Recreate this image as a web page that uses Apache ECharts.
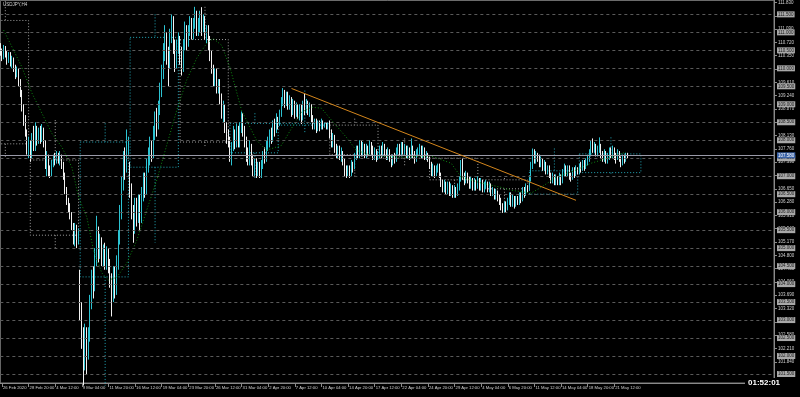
<!DOCTYPE html>
<html><head><meta charset="utf-8">
<script src="https://cdn.jsdelivr.net/npm/echarts@6/dist/echarts.min.js"></script>
<style>html,body{margin:0;padding:0;background:#000;}#c{width:800px;height:397px;}</style>
</head><body><div id="c"></div>
<script>
const symbolTitle = 'USDJPY,H4';
const timeLeft = '01:52:01';
const tradingDays = ['26 Feb','27 Feb','28 Feb','2 Mar','3 Mar','4 Mar','5 Mar','6 Mar','9 Mar','10 Mar','11 Mar','12 Mar','13 Mar','16 Mar','17 Mar','18 Mar','19 Mar','20 Mar','23 Mar','24 Mar','25 Mar','26 Mar','27 Mar','30 Mar','31 Mar','1 Apr','2 Apr','3 Apr','6 Apr','7 Apr','8 Apr','9 Apr','10 Apr','13 Apr','14 Apr','15 Apr','16 Apr','17 Apr','20 Apr','21 Apr','22 Apr','23 Apr','24 Apr','27 Apr','28 Apr','29 Apr','30 Apr','1 May','4 May','5 May','6 May','7 May','8 May','11 May','12 May','13 May','14 May','15 May','18 May','19 May','20 May','21 May','22 May'];
const barHours = ['00:00','04:00','08:00','12:00','16:00','20:00'];
const emptySlots = 88;
const tickBars = [1,17,33,49,65,81,97,113,129,145,161,177,193,209,225,241,257,273,289,305,321,337,353,369];
const tickLabels = ['26 Feb 2020','28 Feb 20:00','4 Mar 12:00','9 Mar 04:00','11 Mar 20:00','16 Mar 12:00','19 Mar 04:00','23 Mar 20:00','26 Mar 12:00','31 Mar 04:00','2 Apr 20:00','7 Apr 12:00','10 Apr 04:00','14 Apr 20:00','17 Apr 12:00','22 Apr 04:00','24 Apr 20:00','29 Apr 12:00','4 May 04:00','6 May 20:00','11 May 12:00','14 May 04:00','18 May 20:00','21 May 12:00'];
// [open, close, low, high]
const candles = [
[110.55,110.45,110.35,110.70],[110.45,110.30,110.20,110.55],[110.30,110.55,110.25,110.65],[110.55,110.40,110.30,110.62],[110.40,110.20,110.10,110.48],[110.20,110.35,110.15,110.45],
[110.35,110.15,110.05,110.45],[110.15,110.25,110.00,110.35],[110.25,110.00,109.90,110.30],[110.00,109.85,109.70,110.10],[109.85,109.95,109.75,110.05],[109.95,109.60,109.50,110.00],
[109.6,109.3,109.2,109.7],[109.3,108.9,108.8,109.4],[108.9,108.6,108.4,109.0],[108.6,108.2,108.1,108.7],[108.2,107.75,107.6,108.3],[107.75,107.9,107.5,108.1],
[107.9,107.6,107.4,108.0],[107.6,108.1,107.5,108.2],[108.1,107.8,107.7,108.4],[107.8,108.3,107.7,108.5],[108.3,107.95,107.85,108.4],[107.95,108.25,107.9,108.35],
[108.25,108.0,107.9,108.4],[108.0,108.3,107.95,108.45],[108.3,107.9,107.8,108.35],[107.9,107.3,107.2,108.0],[107.3,107.5,107.0,107.7],[107.5,107.2,107.0,107.6],
[107.2,107.05,106.95,107.3],[107.05,107.35,107.0,107.45],[107.35,107.5,107.25,107.6],[107.5,107.4,107.3,107.65],[107.4,107.6,107.35,107.7],[107.6,107.45,107.35,107.65],
[107.45,107.55,107.3,107.7],[107.55,107.35,107.2,107.6],[107.35,107.0,106.9,107.4],[107.0,106.6,106.5,107.1],[106.6,106.3,106.2,106.7],[106.3,106.15,106.0,106.4],
[106.15,105.9,105.8,106.25],[105.9,105.6,105.5,106.0],[105.6,105.3,105.1,105.7],[105.3,105.55,105.05,105.7],[105.55,105.2,105.0,105.65],[105.2,105.4,105.1,105.55],
[104.2,103.3,103.0,104.4],[103.3,102.5,102.2,103.5],[102.5,101.9,101.18,102.8],[101.9,102.6,101.6,102.9],[102.6,102.1,101.5,102.8],[102.1,102.6,101.9,102.8],
[102.6,103.5,102.4,103.7],[103.5,104.2,103.3,104.4],[104.2,103.9,103.6,104.5],[103.9,104.8,103.8,105.0],[104.8,105.4,104.5,105.9],[105.4,104.9,104.6,105.6],
[104.9,105.2,104.7,105.4],[105.2,104.7,104.5,105.3],[104.7,105.0,104.5,105.1],[105.0,104.6,104.4,105.15],[104.6,104.9,104.4,105.05],[104.9,104.5,104.3,105.0],
[104.5,104.1,103.9,104.7],[104.1,103.7,103.1,104.3],[103.7,104.3,103.5,104.5],[104.3,103.9,103.6,104.5],[103.9,104.6,103.7,104.8],[104.6,105.3,104.4,105.5],
[105.3,106.0,105.1,106.2],[106.0,106.8,105.8,107.0],[106.8,107.5,106.6,107.7],[107.5,107.2,106.9,107.8],[107.2,107.9,107.1,108.3],[107.9,107.95,107.6,108.1],
[107.25,106.6,106.4,107.4],[106.6,106.0,105.8,106.8],[106.0,105.6,105.15,106.2],[105.6,106.2,105.4,106.4],[106.2,105.8,105.6,106.4],[105.8,106.3,105.7,106.5],
[106.3,105.8,105.5,106.5],[105.8,106.5,105.7,106.7],[106.5,106.9,106.3,107.1],[106.9,106.6,106.4,107.1],[106.6,107.3,106.5,107.5],[107.3,107.6,107.1,107.8],
[107.6,107.9,107.3,108.1],[107.9,107.6,107.4,108.0],[107.6,108.2,107.5,108.4],[108.2,108.6,108.0,108.8],[108.6,108.4,108.1,108.9],[108.4,108.9,108.3,109.1],
[108.9,109.4,108.7,109.6],[109.4,109.9,109.2,110.1],[109.9,110.5,109.7,110.7],[110.5,110.9,110.2,111.2],[110.9,110.4,110.1,111.0],[110.4,110.1,109.5,110.6],
[110.1,110.9,110.0,111.1],[110.9,111.3,110.7,111.5],[111.3,110.6,110.4,111.45],[110.6,110.2,109.9,110.8],[110.2,110.6,110.0,110.8],[110.6,110.85,110.4,111.0],
[110.8,110.4,110.1,110.9],[110.4,110.0,109.8,110.6],[110.0,110.6,109.9,110.8],[110.6,111.1,110.5,111.3],[111.1,110.7,110.5,111.2],[110.7,111.0,110.6,111.2],
[111.0,111.3,110.9,111.45],[111.3,110.9,110.8,111.4],[110.9,111.25,110.8,111.4],[111.25,111.5,111.1,111.71],[111.5,111.0,110.9,111.6],[111.0,111.2,110.9,111.4],
[111.2,111.4,111.0,111.6],[111.4,111.1,110.9,111.7],[111.1,111.35,111.0,111.5],[111.35,110.9,110.8,111.45],[110.9,111.1,110.7,111.2],[111.1,110.7,110.5,111.2],
[110.7,110.4,110.2,110.9],[110.4,110.0,109.85,110.5],[110.0,109.7,109.5,110.1],[109.7,109.9,109.5,110.0],[109.9,109.45,109.3,110.0],[109.45,109.6,109.3,109.7],
[109.6,109.2,109.0,109.7],[109.2,108.8,108.6,109.3],[108.8,108.9,108.5,109.1],[108.9,108.4,108.2,109.0],[108.4,108.1,107.9,108.5],[108.1,107.95,107.8,108.3],
[107.95,107.6,107.4,108.1],[107.6,107.8,107.3,107.95],[107.8,108.2,107.7,108.4],[108.2,107.9,107.75,108.3],[107.9,108.3,107.8,108.45],[108.3,107.95,107.8,108.4],
[107.95,108.4,107.8,108.5],[108.4,108.7,108.2,108.8],[108.7,108.3,108.1,108.75],[108.3,108.0,107.8,108.4],[108.0,107.6,107.4,108.1],[107.6,107.5,107.3,107.8],
[107.5,107.8,107.3,108.0],[107.8,107.5,107.3,107.9],[107.5,107.2,107.0,107.6],[107.2,107.4,107.0,107.5],[107.4,107.1,106.95,107.5],[107.1,107.25,107.0,107.4],
[107.25,107.05,106.95,107.4],[107.05,107.3,106.95,107.45],[107.3,107.6,107.2,107.7],[107.6,107.5,107.35,107.8],[107.5,107.85,107.4,108.0],[107.85,107.95,107.7,108.1],
[107.95,108.2,107.8,108.3],[108.2,108.05,107.9,108.35],[108.05,108.4,107.95,108.55],[108.4,108.25,108.1,108.6],[108.25,108.55,108.2,108.75],[108.55,108.45,108.3,108.65],
[108.45,108.75,108.4,108.85],[108.75,109.1,108.65,109.2],[109.1,109.35,108.95,109.45],[109.35,109.05,108.9,109.4],[109.05,109.25,108.95,109.35],[109.25,108.95,108.85,109.35],
[108.95,109.15,108.85,109.25],[109.15,108.8,108.65,109.2],[108.8,109.05,108.7,109.15],[109.05,108.75,108.6,109.1],[108.75,108.95,108.65,109.05],[108.95,108.7,108.6,109.0],
[108.7,108.9,108.55,109.0],[108.9,108.6,108.45,109.0],[108.6,109.0,108.55,109.1],[109.0,108.85,108.7,109.3],[108.85,109.05,108.75,109.15],[109.05,108.8,108.7,109.1],
[108.8,108.95,108.65,109.05],[108.95,108.6,108.5,109.0],[108.6,108.4,108.3,108.7],[108.4,108.5,108.3,108.6],[108.5,108.3,108.2,108.6],[108.3,108.45,108.25,108.55],
[108.45,108.35,108.25,108.55],[108.35,108.5,108.3,108.6],[108.5,108.4,108.3,108.55],[108.4,108.45,108.35,108.5],[108.45,108.35,108.3,108.5],[108.35,108.45,108.3,108.5],
[108.45,108.2,108.05,108.55],[108.2,107.95,107.8,108.3],[107.95,108.1,107.8,108.2],[108.1,107.8,107.65,108.15],[107.8,107.6,107.5,107.9],[107.6,107.75,107.5,107.85],
[107.75,107.55,107.45,107.85],[107.55,107.65,107.4,107.8],[107.65,107.4,107.3,107.7],[107.4,107.15,107.0,107.5],[107.15,107.05,106.95,107.3],[107.05,107.2,107.0,107.3],
[107.2,107.1,106.95,107.3],[107.1,107.35,107.0,107.45],[107.35,107.25,107.1,107.4],[107.25,107.55,107.2,107.65],[107.55,107.75,107.45,107.85],[107.75,107.6,107.5,107.85],
[107.6,107.9,107.5,108.0],[107.9,107.65,107.55,108.0],[107.65,107.85,107.55,107.95],[107.85,107.6,107.5,107.9],[107.6,107.8,107.5,107.9],[107.8,107.7,107.55,107.85],
[107.7,107.9,107.6,108.0],[107.9,107.75,107.6,107.95],[107.75,107.55,107.45,107.85],[107.55,107.7,107.45,107.8],[107.7,107.5,107.4,107.75],[107.5,107.6,107.45,107.7],
[107.6,107.75,107.5,107.85],[107.75,107.6,107.5,107.85],[107.6,107.85,107.55,107.95],[107.85,107.65,107.55,107.9],[107.65,107.55,107.45,107.75],[107.55,107.7,107.45,107.8],
[107.7,107.5,107.4,107.75],[107.5,107.35,107.25,107.6],[107.35,107.55,107.3,107.6],[107.55,107.45,107.35,107.65],[107.45,107.7,107.4,107.8],[107.7,107.8,107.6,107.9],
[107.8,107.65,107.55,107.9],[107.65,107.85,107.55,107.95],[107.85,107.7,107.6,107.95],[107.7,107.8,107.6,107.9],[107.8,107.6,107.5,107.85],[107.6,107.75,107.5,107.85],
[107.75,107.55,107.45,107.8],[107.55,107.8,107.5,108.05],[107.8,107.6,107.5,107.85],[107.6,107.45,107.35,107.7],[107.45,107.65,107.4,107.75],[107.65,107.7,107.55,107.8],
[107.7,107.8,107.6,107.9],[107.8,107.6,107.5,107.85],[107.6,107.75,107.5,107.85],[107.75,107.55,107.45,107.8],[107.55,107.6,107.45,107.7],[107.6,107.5,107.4,107.65],
[107.5,107.3,107.2,107.55],[107.3,107.1,107.0,107.4],[107.1,107.25,107.0,107.35],[107.25,107.05,106.95,107.3],[107.05,107.2,107.0,107.3],[107.2,107.25,107.1,107.35],
[107.25,107.05,106.95,107.35],[107.05,106.8,106.7,107.1],[106.8,106.65,106.55,106.9],[106.65,106.8,106.55,106.9],[106.8,106.6,106.5,106.85],[106.6,106.75,106.5,106.85],
[106.75,106.55,106.45,106.85],[106.55,106.7,106.45,106.8],[106.7,106.5,106.4,106.75],[106.5,106.65,106.4,106.75],[106.65,106.5,106.4,106.7],[106.5,106.7,106.45,106.8],
[106.7,106.9,106.6,107.0],[106.9,107.3,106.85,107.45],[107.3,107.0,106.9,107.5],[107.0,106.85,106.75,107.1],[106.85,107.05,106.8,107.15],[107.05,106.9,106.8,107.1],
[106.9,106.75,106.65,107.0],[106.75,106.9,106.65,107.0],[106.9,106.7,106.6,106.95],[106.7,106.85,106.6,106.95],[106.85,106.7,106.6,106.9],[106.7,106.9,106.65,107.0],
[106.9,106.7,106.6,106.95],[106.7,106.85,106.6,106.95],[106.85,106.65,106.55,106.9],[106.65,106.75,106.55,106.85],[106.75,106.8,106.65,106.9],[106.8,106.65,106.55,106.85],
[106.65,106.75,106.55,106.85],[106.75,106.55,106.45,106.8],[106.55,106.6,106.45,106.7],[106.6,106.45,106.35,106.65],[106.45,106.55,106.35,106.65],[106.55,106.4,106.3,106.6],
[106.4,106.3,106.2,106.5],[106.3,106.15,106.05,106.4],[106.15,106.05,105.98,106.25],[106.05,106.2,105.98,106.3],[106.2,106.1,106.0,106.3],[106.1,106.3,106.05,106.4],
[106.3,106.45,106.2,106.55],[106.45,106.25,106.15,106.55],[106.25,106.4,106.15,106.5],[106.4,106.2,106.1,106.45],[106.2,106.35,106.15,106.45],[106.35,106.3,106.2,106.45],
[106.3,106.45,106.2,106.55],[106.45,106.35,106.25,106.55],[106.35,106.6,106.3,106.7],[106.6,106.5,106.4,106.7],[106.5,106.7,106.45,106.8],[106.7,106.65,106.55,106.75],
[106.65,106.9,106.6,107.0],[106.9,107.3,106.85,107.4],[107.3,107.65,107.2,107.77],[107.65,107.45,107.35,107.75],[107.45,107.6,107.35,107.7],[107.6,107.5,107.4,107.65],
[107.5,107.35,107.25,107.6],[107.35,107.45,107.25,107.55],[107.45,107.25,107.15,107.5],[107.25,107.35,107.15,107.45],[107.35,107.15,107.05,107.4],[107.15,107.2,107.05,107.3],
[107.2,107.05,106.95,107.3],[107.05,106.9,106.8,107.1],[106.9,107.0,106.8,107.1],[107.0,106.85,106.75,107.05],[106.85,106.95,106.75,107.05],[106.95,106.85,106.75,107.0],
[106.85,107.0,106.75,107.1],[107.0,106.85,106.75,107.05],[106.85,107.1,106.8,107.2],[107.1,107.25,107.0,107.35],[107.25,107.1,107.0,107.3],[107.1,107.2,107.0,107.3],
[107.2,107.0,106.9,107.3],[107.0,106.95,106.85,107.1],[106.95,107.15,106.9,107.25],[107.15,107.05,106.95,107.25],[107.05,107.2,107.0,107.3],[107.2,107.15,107.05,107.25],
[107.15,107.3,107.05,107.35],[107.3,107.2,107.1,107.4],[107.2,107.35,107.15,107.45],[107.35,107.25,107.15,107.45],[107.25,107.4,107.2,107.5],[107.4,107.5,107.3,107.6],
[107.5,107.65,107.4,107.75],[107.65,107.9,107.55,108.0],[107.9,107.75,107.65,108.05],[107.75,107.85,107.65,107.95],[107.85,107.65,107.55,107.9],[107.65,107.75,107.55,107.85],
[107.75,107.85,107.65,108.08],[107.85,107.6,107.5,107.9],[107.6,107.5,107.4,107.7],[107.5,107.65,107.4,107.75],[107.65,107.45,107.35,107.7],[107.45,107.55,107.35,107.65],
[107.55,107.7,107.45,107.8],[107.7,107.6,107.5,107.8],[107.6,107.75,107.5,107.85],[107.75,107.55,107.45,107.8],[107.55,107.5,107.35,107.65],[107.5,107.65,107.45,107.75],
[107.65,107.5,107.4,107.7],[107.5,107.35,107.25,107.55],[107.35,107.5,107.3,107.6],[107.5,107.45,107.35,107.6],[107.45,107.6,107.4,107.65],[107.6,107.58,107.5,107.65]
];
// weekly candles: [startBar, endBar, open, close, high, low]
const weeks = [
[-12,17,111.33,107.9,112.2,107.5],
[18,47,107.45,105.36,108.56,105.0],
[48,77,104.2,107.95,108.47,101.18],
[78,107,107.25,110.86,111.5,105.15],
[108,137,110.8,107.95,111.71,107.8],
[138,167,107.65,108.47,108.75,106.95],
[168,197,108.42,108.47,109.38,108.2],
[198,227,108.42,107.6,108.6,106.95],
[228,257,107.6,107.5,108.05,107.25],
[258,287,107.5,106.9,107.5,106.4],
[288,317,106.9,106.65,106.95,105.98],
[318,347,106.5,107.15,107.77,106.5],
[348,385,107.1,107.62,108.08,107.05]
];
const maBars = [2,8,13,19,25,31,37,43,47,52,56,61,65,70,76,82,88,94,100,106,112,118,124,128,133,138,145,154,160,169,175,181,187,193,199,208,214,223,241,259,271,277,289,301,307,319,325,334,346,355,367,376];
const maValues = [111.06,110.5,110.03,109.31,108.75,108.19,107.81,107.25,106.42,105.86,104.94,104.31,104.11,104.19,104.58,105.22,106.06,106.89,107.86,108.83,109.67,110.28,110.69,110.83,110.64,110.03,108.83,108.0,107.72,107.86,108.33,108.78,108.92,108.89,108.56,108.08,107.72,107.58,107.53,107.56,107.36,106.97,106.81,106.69,106.61,106.53,106.69,106.97,107.17,107.36,107.53,107.67];
const trendBars = [175, 346];
const trendPrices = [109.44, 106.33];
const gridLevels = [101.5,102,102.5,103,103.5,104,104.5,105,105.5,106,106.5,107,107.5,108,108.5,109,109.5,110,110.5,111,111.5];
const scaleLabels = [101.84,102.21,102.58,102.95,103.32,103.69,104.06,104.43,104.80,105.17,105.54,105.91,106.28,106.65,107.02,107.39,107.76,108.13,108.50,108.87,109.24,109.61,109.98,110.35,110.72,111.09,111.46,111.83];
const lastPrice = 107.58;

const UP = '#2cc3d2', DOWN = '#f2f2f2', BOXUP = '#22a7b8', BOXDN = '#a0a0a0';
const categories = [];
tradingDays.forEach(d => barHours.forEach(h => categories.push(d + ' ' + h)));
for (let i = 0; i < emptySlots; i++) categories.push('');

const chart = echarts.init(document.getElementById('c'), null, {renderer: 'canvas'});
const gridMarks = gridLevels.map(v => ({yAxis: v, lineStyle: {color: '#5a5a5a', type: [3, 3], width: 1},
  label: {show: true, position: 'end', distance: 3, formatter: v.toFixed(3), fontSize: 4.5, color: '#1a1a1a', backgroundColor: '#a8a8a8', padding: [1, 1, 0, 1], fontFamily: 'Liberation Sans'}}));
gridMarks.push({yAxis: lastPrice, lineStyle: {color: '#9a9aa8', type: 'solid', width: 1},
  label: {show: true, position: 'end', distance: 3, formatter: lastPrice.toFixed(3), fontSize: 4.5, color: '#ffffff', backgroundColor: '#3a63a8', padding: [1, 1, 0, 1], fontFamily: 'Liberation Sans'}});

chart.setOption({
  backgroundColor: '#000000',
  animation: false,
  grid: {left: 0, right: 26, top: 0, bottom: 14, show: true, borderColor: '#7a7a7a', borderWidth: 1},
  xAxis: {
    type: 'category', data: categories, boundaryGap: false,
    axisLine: {lineStyle: {color: '#8a8a8a'}},
    axisTick: {show: true, interval: (i) => tickBars.includes(i), length: 4, lineStyle: {color: '#8a8a8a'}},
    axisLabel: {interval: (i) => tickBars.includes(i), formatter: (v, i) => tickLabels[tickBars.indexOf(i)] || '',
      align: 'left', margin: 3, fontSize: 4.2, color: '#d0d0d0', fontFamily: 'Liberation Sans', padding: [0,0,0,1]},
    splitLine: {show: false}
  },
  yAxis: {
    type: 'value', position: 'right', min: 101.25, max: 111.889, scale: true,
    axisLine: {show: true, lineStyle: {color: '#8a8a8a'}},
    axisTick: {show: true, length: 3, customValues: scaleLabels, lineStyle: {color: '#8a8a8a'}},
    axisLabel: {customValues: scaleLabels, formatter: v => v.toFixed(3), fontSize: 4.5, color: '#d0d0d0', margin: 4, fontFamily: 'Liberation Sans'},
    splitLine: {show: false}
  },
  series: [
    {
      type: 'custom', name: 'weekly', silent: true, z: 1,
      data: weeks,
      encode: {x: [0, 1], y: [2, 3, 4, 5]},
      renderItem: (params, api) => {
        const s = api.value(0), e = api.value(1), o = api.value(2), c = api.value(3), h = api.value(4), l = api.value(5);
        const col = c >= o ? BOXUP : BOXDN;
        const top = api.coord([s, Math.max(o, c)]), bot = api.coord([e, Math.min(o, c)]);
        const mid = Math.round((s + e) / 2);
        const pH = api.coord([mid, h]), pL = api.coord([mid, l]);
        const st = {stroke: col, lineWidth: 1, lineDash: [1, 2], fill: null};
        return {type: 'group', children: [
          {type: 'rect', shape: {x: top[0], y: top[1], width: bot[0] - top[0], height: Math.max(1, bot[1] - top[1])}, style: st},
          {type: 'line', shape: {x1: pH[0], y1: pH[1], x2: pH[0], y2: top[1]}, style: st},
          {type: 'line', shape: {x1: pL[0], y1: bot[1], x2: pL[0], y2: pL[1]}, style: st}
        ]};
      }
    },
    {
      type: 'line', name: 'levels', data: [], silent: true, z: 2,
      markLine: {symbol: ['none', 'none'], silent: true, data: gridMarks, animation: false}
    },
    {
      type: 'candlestick', name: symbolTitle, z: 3,
      data: candles, barWidth: 1,
      itemStyle: {color: UP, color0: DOWN, borderColor: UP, borderColor0: DOWN, borderWidth: 1}
    },
    {
      type: 'line', name: 'MA', z: 4, showSymbol: false, connectNulls: true,
      data: maBars.map((b, i) => [b, maValues[i]]),
      lineStyle: {color: '#0e8a12', width: 1, type: [1, 2]}
    },
    {
      type: 'line', name: 'trend', z: 5, showSymbol: false,
      data: trendBars.map((b, i) => [b, trendPrices[i]]),
      lineStyle: {color: '#d4861c', width: 1}
    }
  ],
  graphic: [
    {type: 'text', left: 3, top: 2, style: {text: symbolTitle, fill: '#d0d0d0', fontSize: 4.5, fontFamily: 'Liberation Sans'}},
    {type: 'rect', left: 745, top: 378, shape: {width: 40, height: 11}, style: {fill: '#000'}, z: 10},
    {type: 'text', left: 748, top: 379, z: 11, style: {text: timeLeft, fill: '#ffffff', fontSize: 8, fontWeight: 'bold', fontFamily: 'Liberation Sans'}}
  ]
});
</script></body></html>
